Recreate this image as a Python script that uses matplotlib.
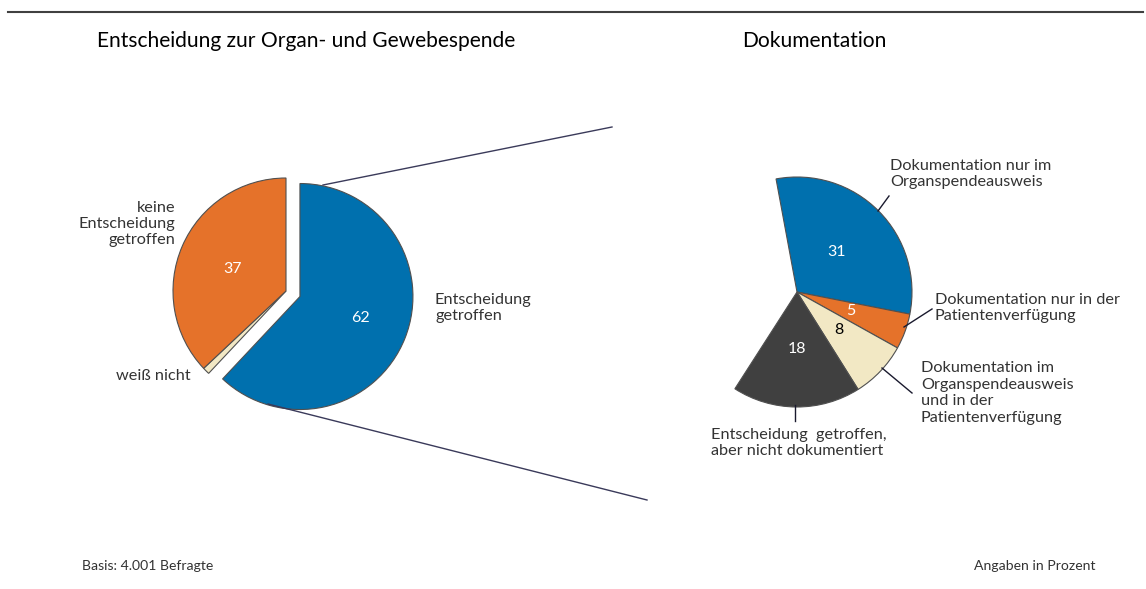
import matplotlib.pyplot as plt
import matplotlib
matplotlib.rcParams['font.family'] = ['Lato', 'DejaVu Sans']

# data
left_labels = ['Entscheidung\ngetroffen', 'weiß nicht', 'keine\nEntscheidung\ngetroffen']
left_values = [62, 1, 37]
left_colors = ['#0070ae', '#f2e8c4', '#e5722a']

right_labels = ['Dokumentation nur im\nOrganspendeausweis',
                'Dokumentation nur in der\nPatientenverfügung',
                'Dokumentation im\nOrganspendeausweis\nund in der\nPatientenverfügung',
                'Entscheidung  getroffen,\naber nicht dokumentiert']
right_values = [31, 5, 8, 18]
right_colors = ['#0070ae', '#e5722a', '#f2e8c4', '#404040']
rest = 100 - sum(right_values)

W, H = 1146, 589
fig = plt.figure(figsize=(W / 100, H / 100), dpi=100)
ax = fig.add_axes([0, 0, 1, 1])

def Y(y):
    # picture rows -> data y (y up)
    return H - y

edge = dict(edgecolor='#505050', linewidth=0.8)

# left pie, blue slice pulled out
ax.pie(left_values, colors=left_colors, startangle=90, counterclock=False,
       explode=[15, 0, 0], center=(286, Y(291)), radius=113,
       wedgeprops=edge, frame=True)

# right pie, only the 62 percent that decided
ax.pie(right_values + [rest], colors=right_colors + ['none'], startangle=100.5,
       counterclock=False, center=(797, Y(292)), radius=115,
       wedgeprops=edge, frame=True)
ax.patches[-1].set_visible(False)

ax.set_xlim(0, W)
ax.set_ylim(0, H)
ax.set_aspect('equal')
ax.axis('off')

num = dict(fontsize=11.5, ha='center', va='center')
ax.text(361, Y(318), str(left_values[0]), color='white', **num)
ax.text(233, Y(269), str(left_values[2]), color='white', **num)
ax.text(837, Y(252), str(right_values[0]), color='white', **num)
ax.text(851, Y(311), str(right_values[1]), color='white', **num)
ax.text(839, Y(330), str(right_values[2]), color='black', **num)
ax.text(797, Y(349), str(right_values[3]), color='white', **num)

lab = dict(fontsize=11.7, color='#333333', va='center', linespacing=1.22)
ax.text(435, Y(308), left_labels[0], ha='left', **lab)
ax.text(191, Y(376), left_labels[1], ha='right', **lab)
ax.text(175, Y(224), left_labels[2], ha='right', multialignment='right', **lab)

ax.text(890, Y(174), right_labels[0], ha='left', **lab)
ax.text(935, Y(308), right_labels[1], ha='left', **lab)
ax.text(921, Y(393), right_labels[2], ha='left', **lab)
ax.text(711, Y(443), right_labels[3], ha='left', **lab)

# leader lines
lk = dict(color='#1a1a2e', linewidth=1)
ax.plot([878, 889], [Y(211), Y(196)], **lk)
ax.plot([904, 932], [Y(327), Y(309)], **lk)
ax.plot([882, 912], [Y(368), Y(393)], **lk)
ax.plot([795, 795], [Y(405), Y(421)], **lk)

# connection lines
ck = dict(color='#3a3a5a', linewidth=1)
ax.plot([323, 612], [Y(185), Y(127)], **ck)
ax.plot([268, 647], [Y(404), Y(500)], **ck)

# top rule
ax.plot([8, 1143], [Y(12), Y(12)], color='#404040', linewidth=1.5)

ax.text(97, Y(41), 'Entscheidung zur Organ- und Gewebespende', fontsize=15.1,
        ha='left', va='center', color='black')
ax.text(742, Y(41), 'Dokumentation', fontsize=15.1, ha='left', va='center', color='black')

ax.text(82, Y(566), 'Basis: 4.001 Befragte', fontsize=10.1, ha='left', va='center', color='#333333')
ax.text(1096, Y(566), 'Angaben in Prozent', fontsize=10.1, ha='right', va='center', color='#333333')

fig.savefig('out.png', dpi=100)
